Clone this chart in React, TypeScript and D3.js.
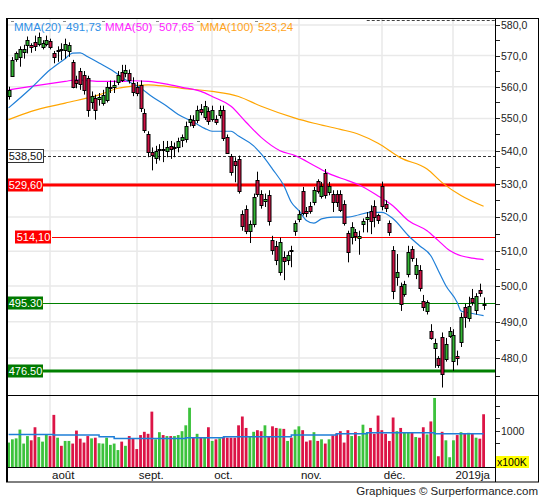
import React, { useEffect, useRef } from "react";
import * as d3 from "d3";

// daily candles, 17 Jul 2018 -> 14 Jan 2019 (one entry per session)
const opens = [
  557, 563.5, 568.8, 569.5, 571, 573.7, 573.5, 574.4, 573.7, 572.9, 573.7, 574.8, 570.9, 571.4, 572.2, 571.8, 571.5,
  568, 562, 565, 563.8, 562.8, 555, 556.5, 555.9, 555, 555.9, 559.6, 559.8, 561.6, 564.8, 564.4, 564.4, 561.2, 560,
  560.6, 551.8, 545, 539.6, 537.8, 540.2, 540.6, 539.9, 541.4, 540.9, 541.1, 543.2, 543.7, 548.8, 549.6, 549.6, 553,
  550.5, 552.2, 549.8, 549.8, 551, 552.5, 544.3, 538.5, 537, 537.5, 521, 522.4, 516, 518, 531.1, 526.9, 524.9, 526.6,
  513.3, 511.6, 504.1, 508.4, 507.6, 510.4, 515.8, 519.5, 527.9, 521.9, 523.4, 524.4, 530.9, 526.5, 533.2, 527.6,
  526.9, 526.9, 526.9, 523.9, 515.4, 514.1, 515.5, 514, 517.9, 519.2, 521.9, 523.4, 520.5, 529.3, 524, 518.2, 510.5,
  502.5, 500.1, 497.8, 503.5, 510.7, 503.3, 504.7, 495.8, 493, 487.4, 482.8, 479.9, 485.7, 479.6, 486, 479.3, 480.6,
  484.6, 494, 491.1, 496.6, 493.4, 499, 494.9,
];
const highs = [
  560, 569.5, 571.3, 573, 573.5, 576.2, 574, 576.5, 577.5, 575, 576.5, 575.5, 571.5, 573, 574, 575.5, 574.3, 568.6,
  563.5, 566, 565, 563.5, 558.5, 557.5, 558, 559, 561.5, 562, 562, 565, 567, 567, 565.5, 563, 561.5, 562, 553, 546,
  541, 541.5, 542, 543, 543, 543, 542.5, 544, 545, 549, 551, 551, 554, 554.5, 555.5, 553.5, 554, 551, 554, 554, 545,
  539, 538, 538.5, 522, 523.5, 519, 527, 533.6, 528, 527, 528, 514.5, 513, 514, 510, 510, 511.6, 519, 522, 529, 523,
  524.5, 529, 531.3, 530.5, 534.4, 530.5, 528, 528, 528, 525, 516, 518.5, 516.5, 516, 519.6, 521.5, 523.5, 525, 521,
  530.6, 525, 519, 511.5, 509.2, 501, 501.5, 511.6, 511.5, 508, 506, 497.5, 496, 489.3, 485.3, 480.5, 487, 485.5,
  488.5, 487.9, 482, 492.5, 495, 497, 499.2, 498, 500.7, 496.8,
];
const lows = [
  555.9, 563.3, 568, 566.4, 569, 570.7, 570.9, 571.5, 573, 572, 573, 572, 567.5, 568, 568.5, 569, 569.6, 559.5, 559.5,
  559, 557.5, 550.5, 553, 549.6, 554, 554, 555, 558, 558, 560.5, 561.5, 563, 561, 557, 557, 552, 545.5, 538, 534, 536,
  537, 536.5, 538, 537.5, 538, 539.5, 541.1, 542.5, 547.5, 547, 548.5, 551, 549.5, 548, 549, 548, 550, 543, 539, 532.4,
  530.4, 527, 516, 515, 512.4, 517, 526, 522.5, 523, 517.5, 509, 506, 503, 501.7, 506, 505.4, 514.5, 518.5, 520.5, 520,
  521, 523.5, 527, 525.5, 525.5, 526.5, 521.5, 523, 521.5, 517.5, 506.8, 512, 513, 509, 515.5, 515.5, 515, 517, 518,
  522, 521.5, 514.5, 496.3, 500.1, 493, 497, 502.5, 507, 502, 498.5, 493, 492, 485, 477.3, 477.3, 472, 479, 485.5,
  476.5, 478, 483, 488.3, 490, 494.5, 492, 497, 493.3,
];
const closes = [
  559, 568.6, 570.7, 572, 572, 575.2, 572.8, 573.1, 576.1, 574.1, 575.1, 572.9, 569.6, 571.8, 571.8, 573.7, 573.4,
  560, 561, 561, 559, 552.7, 557, 552.7, 556.6, 557.4, 560, 560, 560.5, 563.8, 562.2, 565.4, 562.2, 558.3, 558, 553.3,
  546.6, 539.6, 538.7, 540, 540.5, 540.2, 541.1, 540.5, 541.2, 542.9, 544.2, 547.6, 549.8, 548.1, 552.7, 552.2, 553.8,
  549, 552.5, 549, 552.5, 543.8, 539.5, 533.5, 535.8, 527.9, 517.5, 516, 518, 525.9, 526.9, 523.7, 525.4, 518.8, 510.4,
  507.5, 512.8, 507.3, 509, 510.2, 518.2, 521, 521.4, 521.4, 521.9, 528.1, 527.9, 529.4, 526.5, 529.4, 524.4, 524.4,
  522.1, 518.4, 510, 517, 514.3, 514.5, 518.9, 519.9, 519, 520, 519, 523.4, 522.8, 515.5, 498.7, 503.9, 494.9, 500.6,
  509.7, 508.1, 506, 499.6, 494, 495.4, 485.5, 484.2, 478, 475.6, 483.8, 487.3, 486.3, 480, 491.4, 491.1, 494.4,
  495.6, 497.3, 498.2, 494.6,
];
// volumes in units of 100K
const volumes = [
  807, 859, 874, 1015, 791, 911, 843, 1052, 895, 822, 937, 911, 1250, 885, 755, 833, 833, 791, 999, 869, 807, 911,
  874, 885, 796, 791, 885, 770, 791, 687, 822, 755, 911, 874, 703, 927, 979, 947, 1302, 859, 973, 927, 911, 911, 911,
  927, 989, 1083, 1364, 885, 947, 885, 885, 1052, 833, 859, 874, 895, 885, 885, 885, 1083, 1224, 1041, 911, 979, 1005,
  989, 1083, 911, 1067, 1041, 1031, 1026, 833, 885, 1015, 1067, 1005, 822, 843, 973, 833, 859, 791, 859, 921, 953,
  989, 807, 1005, 911, 973, 911, 1093, 963, 1041, 947, 1239, 1005, 947, 833, 1208, 989, 1041, 973, 973, 973, 895, 885,
  1052, 937, 1145, 1521, 588, 979, 843, 572, 843, 927, 973, 953, 963, 953, 885, 869, 1260,
];

const monthLabels = ["août", "sept.", "oct.", "nov.", "déc.", "2019ja"];
const monthStarts = [11, 34, 54, 77, 99, 118];

// moving averages: [session index, value]
const mma20 = [
  [0, 553.3], [6, 559.6], [11, 565.4], [15, 569], [17, 570.8], [19, 570.9], [21, 569.6], [24, 567.6], [28, 564.8],
  [31, 562.2], [35, 559.6], [38, 556.9], [42, 553.8], [45, 551.2], [49, 548.9], [52, 546.9], [54, 546], [59, 546],
  [61, 544.5], [65, 541.5], [67, 539], [70, 534.4], [73, 529.4], [75, 524.4], [77, 521.9], [79, 519], [81, 518.2],
  [83, 519.5], [86, 520], [90, 520], [93, 520.7], [96, 521.4], [99, 521.4], [102, 519.5], [106, 514.6], [109, 511.6],
  [112, 508.7], [114, 504.4], [116, 500.1], [119, 495.4], [120, 493], [122, 492.5], [126, 491.7],
];
const mma50 = [
  [0, 559], [6, 560.1], [15, 561.7], [18, 562.2], [24, 561.7], [30, 561.7], [33, 561.9], [37, 561.7], [42, 560.8],
  [46, 559.8], [51, 558.5], [54, 556.9], [59, 553.8], [63, 548.8], [67, 544.1], [72, 540], [76, 538.5], [81, 535.5],
  [85, 533], [90, 530.9], [93, 529.6], [98, 526.3], [102, 523.3], [106, 519], [111, 516], [114, 513.1], [117, 510.2],
  [120, 508.7], [123, 508], [126, 507.6],
];
const mma100 = [
  [0, 549.6], [6, 552.2], [15, 554.8], [24, 557.4], [29, 559.5], [33, 560.2], [37, 560.6], [42, 560.1], [46, 559.5],
  [54, 558.5], [61, 556.9], [67, 553.8], [76, 550.1], [81, 548.5], [88, 546.6], [93, 545], [98, 542.3], [104, 537.8],
  [111, 534.4], [115, 530.3], [120, 526.4], [126, 523.2],
];
const volMma = [
  [0, 937], [12, 927], [24, 901], [28, 874], [47, 885], [57, 901], [75, 927], [87, 947], [95, 963], [113, 947],
  [126, 947],
];

const legendNames = ["MMA(20)", "MMA(50)", "MMA(100)"];
const legendValues = ["491,73", "507,65", "523,24"];

const levelValues = [538.5, 529.6, 514.1, 495.3, 476.5];
const levelLabels = ["538,50", "529,60", "514,10", "495.30", "476.50"];
const topLevel = 581.6;
const topLevelFrom = 95;

const FONT = "'Liberation Sans', Arial, sans-serif";
const GREEN = "#3cc23c";
const RED = "#dc1446";

const App = () => {
  const svgRef = useRef<SVGSVGElement>(null);

  useEffect(() => {
    const svg = d3.select(svgRef.current);
    svg.selectAll("*").remove();

    const left = 7,
      right = 495,
      top = 19,
      mainBottom = 395,
      volBottom = 467,
      bottom = 482;

    const x = d3.scaleLinear().domain([0, 126]).range([8.6, 483.6]);
    const y = d3.scaleLog().domain([470, 582.3]).range([mainBottom, top - 1]);
    const yv = d3.scaleLinear().domain([416, 1568]).range([volBottom, mainBottom]);

    svg.append("rect").attr("width", 545).attr("height", 500).attr("fill", "#fff");

    const defs = svg.append("defs");
    defs
      .append("clipPath")
      .attr("id", "mainClip")
      .append("rect")
      .attr("x", left)
      .attr("y", top)
      .attr("width", right - left)
      .attr("height", mainBottom - top);
    defs
      .append("clipPath")
      .attr("id", "volClip")
      .append("rect")
      .attr("x", left)
      .attr("y", mainBottom)
      .attr("width", right - left)
      .attr("height", volBottom - mainBottom);
    defs
      .append("clipPath")
      .attr("id", "axisClip")
      .append("rect")
      .attr("x", left)
      .attr("y", volBottom)
      .attr("width", right - left)
      .attr("height", bottom - volBottom);

    // grid
    const grid = svg.append("g").attr("stroke", "#e9e9e9").attr("stroke-width", 1.5);
    d3.range(480, 581, 10).forEach((v) => {
      grid.append("line").attr("x1", left).attr("x2", right).attr("y1", y(v)).attr("y2", y(v));
    });
    monthStarts.forEach((m) => {
      grid
        .append("line")
        .attr("x1", Math.round(x(m)))
        .attr("x2", Math.round(x(m)))
        .attr("y1", top)
        .attr("y2", volBottom);
    });

    const main = svg.append("g").attr("clip-path", "url(#mainClip)");

    // horizontal levels
    const labelW = 36;
    levelValues.forEach((v, i) => {
      const yy = Math.round(y(v));
      const x0 = i === 2 ? 52 : 43;
      if (i === 0) {
        main
          .append("line")
          .attr("x1", x0)
          .attr("x2", right)
          .attr("y1", yy + 0.5)
          .attr("y2", yy + 0.5)
          .attr("stroke", "#333")
          .attr("stroke-dasharray", "3,2");
      } else {
        const col = i < 3 ? "#ff0000" : "#008000";
        const thick = i === 1 || i === 4;
        main
          .append("line")
          .attr("x1", x0)
          .attr("x2", right)
          .attr("y1", thick ? yy : yy + 0.5)
          .attr("y2", thick ? yy : yy + 0.5)
          .attr("stroke", col)
          .attr("stroke-width", thick ? 3 : 1);
      }
    });
    main
      .append("line")
      .attr("x1", x(topLevelFrom))
      .attr("x2", right)
      .attr("y1", Math.round(y(topLevel)) + 0.5)
      .attr("y2", Math.round(y(topLevel)) + 0.5)
      .attr("stroke", "#444")
      .attr("stroke-dasharray", "3,2");

    // moving averages
    const line = d3
      .line<number[]>()
      .x((d) => x(d[0]))
      .y((d) => y(d[1]))
      .curve(d3.curveMonotoneX);
    [
      [mma100, "#ffa500"],
      [mma50, "#ff00ff"],
      [mma20, "#1f7fd8"],
    ].forEach(([data, col]) => {
      main
        .append("path")
        .attr("d", line(data as number[][]))
        .attr("fill", "none")
        .attr("stroke", col as string)
        .attr("stroke-width", 1.2);
    });

    // candles
    const candles = main.append("g");
    opens.forEach((o, i) => {
      const c = closes[i];
      const cx = Math.round(x(i)) + 0.5;
      candles
        .append("line")
        .attr("x1", cx)
        .attr("x2", cx)
        .attr("y1", y(highs[i]))
        .attr("y2", y(lows[i]))
        .attr("stroke", "#000");
      const yt = y(Math.max(o, c));
      const yb = y(Math.min(o, c));
      candles
        .append("rect")
        .attr("x", cx - 1.5)
        .attr("y", Math.round(yt) + 0.5)
        .attr("width", 3)
        .attr("height", Math.max(1, Math.round(yb - yt)))
        .attr("fill", c >= o ? "#33b533" : "#cc1144")
        .attr("stroke", "#000")
        .attr("stroke-width", 1);
    });

    // level labels
    levelValues.forEach((v, i) => {
      const yy = Math.round(y(v));
      const bx = i === 2 ? 15 : 7;
      const fill = i === 0 ? "#fff" : i < 3 ? "#ff0000" : "#007a00";
      svg
        .append("rect")
        .attr("x", bx + (i === 0 ? 0.5 : 0))
        .attr("y", yy - 6.5)
        .attr("width", labelW)
        .attr("height", 13)
        .attr("fill", fill)
        .attr("stroke", i === 0 ? "#333" : "none");
      svg
        .append("text")
        .attr("x", bx + labelW / 2 + 0.5)
        .attr("y", yy + 4)
        .attr("text-anchor", "middle")
        .attr("font-family", FONT)
        .attr("font-size", 11)
        .attr("fill", i === 0 ? "#111" : "#fff")
        .text(levelLabels[i]);
    });

    // legend
    const legendColors = ["#2f8fe6", "#ff22ff", "#ffa31a"];
    const legendX = [[14, 66], [105, 159], [200, 258]];
    legendNames.forEach((n, i) => {
      [n, legendValues[i]].forEach((t, k) => {
        svg
          .append("line")
          .attr("x1", legendX[i][k] - 3)
          .attr("x2", legendX[i][k])
          .attr("y1", 21.5)
          .attr("y2", 21.5)
          .attr("stroke", "#888");
        svg
          .append("text")
          .attr("x", legendX[i][k])
          .attr("y", 31)
          .attr("font-family", FONT)
          .attr("font-size", 11.5)
          .attr("fill", legendColors[i])
          .text(t);
      });
    });

    // volume panel
    const vol = svg.append("g").attr("clip-path", "url(#volClip)");
    volumes.forEach((v, i) => {
      vol
        .append("rect")
        .attr("x", x(i) - 1.4)
        .attr("width", 2.8)
        .attr("y", yv(v))
        .attr("height", volBottom - yv(v))
        .attr("fill", closes[i] >= opens[i] ? GREEN : RED);
    });
    vol
      .append("path")
      .attr(
        "d",
        d3
          .line<number[]>()
          .x((d) => x(d[0]))
          .y((d) => yv(d[1]))
          .curve(d3.curveStepAfter)(volMma)
      )
      .attr("fill", "none")
      .attr("stroke", "#1f7fd8")
      .attr("stroke-width", 1.5);

    // right axes
    const ax = svg.append("g").attr("stroke", "#222");
    d3.range(475, 581, 5).forEach((v) => {
      const yy = Math.round(y(v)) + 0.5;
      ax.append("line").attr("x1", right).attr("x2", right + 5).attr("y1", yy).attr("y2", yy);
    });
    d3.range(480, 581, 10).forEach((v) => {
      svg
        .append("text")
        .attr("x", right + 6)
        .attr("y", Math.round(y(v)) + 4)
        .attr("font-family", FONT)
        .attr("font-size", 10.5)
        .attr("fill", "#222")
        .text(v.toFixed(1).replace(".", ","));
    });
    d3.range(600, 1401, 200).forEach((v) => {
      const yy = Math.round(yv(v)) + 0.5;
      ax.append("line").attr("x1", right).attr("x2", right + 5).attr("y1", yy).attr("y2", yy);
    });
    svg
      .append("text")
      .attr("x", right + 6)
      .attr("y", Math.round(yv(1000)) + 4)
      .attr("font-family", FONT)
      .attr("font-size", 10.5)
      .attr("fill", "#222")
      .text("1000");
    svg.append("rect").attr("x", 496).attr("y", 456).attr("width", 33).attr("height", 12).attr("fill", "#ffff00");
    svg
      .append("text")
      .attr("x", 497)
      .attr("y", 466)
      .attr("font-family", FONT)
      .attr("font-size", 10.5)
      .attr("fill", "#000")
      .text("x100K");

    // month labels
    const ml = svg.append("g").attr("clip-path", "url(#axisClip)");
    monthStarts.forEach((m, i) => {
      ml.append("text")
        .attr("x", x(m) + 2)
        .attr("y", 479)
        .attr("font-family", FONT)
        .attr("font-size", 11.5)
        .attr("fill", "#111")
        .text(monthLabels[i]);
    });

    // frame
    const fr = svg.append("g").attr("stroke", "#000").attr("fill", "none");
    fr.append("rect").attr("x", 6.5).attr("y", 18.5).attr("width", 532).attr("height", 463.5);
    fr.append("line").attr("x1", 7.5).attr("x2", 7.5).attr("y1", 18).attr("y2", 482).attr("stroke-width", 1);
    fr.append("line").attr("x1", 6).attr("x2", 539).attr("y1", mainBottom + 0.5).attr("y2", mainBottom + 0.5);
    fr.append("line").attr("x1", 6).attr("x2", right).attr("y1", volBottom + 0.5).attr("y2", volBottom + 0.5);
    fr.append("line").attr("x1", right + 0.5).attr("x2", right + 0.5).attr("y1", 18).attr("y2", 482);

    svg
      .append("text")
      .attr("x", 538)
      .attr("y", 495)
      .attr("text-anchor", "end")
      .attr("font-family", FONT)
      .attr("font-size", 11.5)
      .attr("fill", "#222")
      .text("Graphiques © Surperformance.com");
  }, []);

  return (
    <div style={{ position: "absolute", left: 0, top: 0 }}>
      <svg ref={svgRef} width={545} height={500}></svg>
    </div>
  );
};

export default App;
